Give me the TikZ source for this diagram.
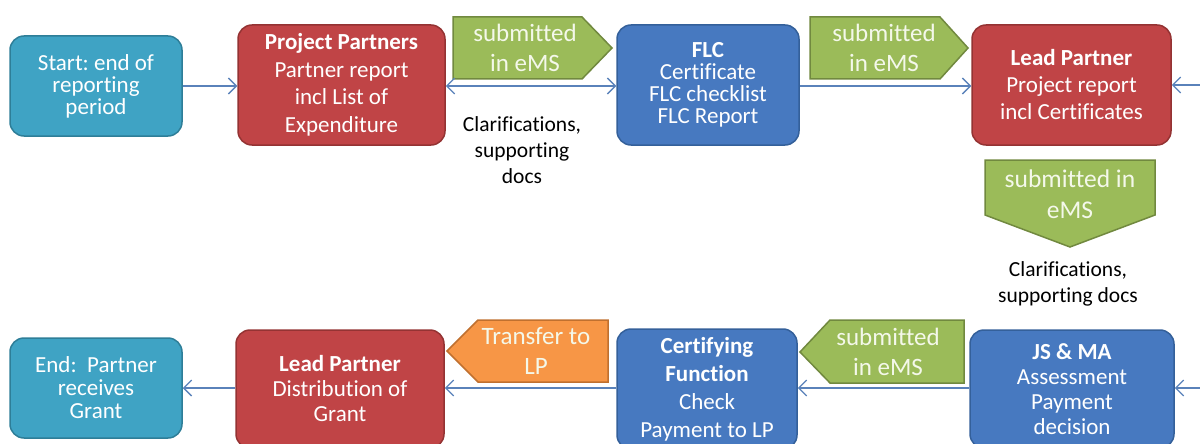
\documentclass[tikz,border=0pt]{standalone}
\usepackage{fontspec}
\setmainfont{Carlito}[Ligatures=NoCommon]
\usetikzlibrary{arrows.meta}
\frenchspacing
\definecolor{teal}{HTML}{3FA3C4}
\definecolor{tealb}{HTML}{2E7E98}
\definecolor{redf}{HTML}{C04446}
\definecolor{redb}{HTML}{943333}
\definecolor{bluef}{HTML}{4779C0}
\definecolor{blueb}{HTML}{34609A}
\definecolor{greenf}{HTML}{9BBB59}
\definecolor{greenb}{HTML}{71893F}
\definecolor{orangef}{HTML}{F79646}
\definecolor{orangeb}{HTML}{C0702F}
\definecolor{conn}{HTML}{5A82BA}
\definecolor{paletxt}{HTML}{F4F8EA}
\tikzset{
  box/.style={rounded corners=14pt, line width=1.5pt, align=center, text=white,
    inner sep=0pt, font=\fontsize{23}{26}\selectfont},
  tealbox/.style={box, fill=teal, draw=tealb},
  redbox/.style={box, fill=redf, draw=redb},
  bluebox/.style={box, fill=bluef, draw=blueb},
  tag/.style={line width=1.5pt, line join=miter},
  tagtext/.style={align=center, text=paletxt, inner sep=0pt, font=\fontsize{25}{30}\selectfont},
  note/.style={align=center, text=black, inner sep=0pt, font=\fontsize{21.5}{26}\selectfont},
  conline/.style={draw=conn, line width=1.3pt},
  arr/.style={conline, -{Straight Barb[length=8pt,width=16pt,line width=1.3pt]}},
  darr/.style={conline, {Straight Barb[length=8pt,width=16pt,line width=1.3pt]}-{Straight Barb[length=8pt,width=16pt,line width=1.3pt]}}
}
\begin{document}
\begin{tikzpicture}[x=1pt,y=-1pt]
\useasboundingbox (0,0) rectangle (1200,444);
% ---- top row boxes
\node[tealbox, minimum width=172pt, minimum height=100pt, font=\fontsize{23}{22}\selectfont] (start) at (96,86) {Start: end of\\reporting\\period};
\node[redbox, minimum width=207pt, minimum height=120pt, font=\fontsize{23}{27.5}\selectfont] (pp) at (341.5,85) {\textbf{Project Partners}\\Partner report\\incl List of\\Expenditure};
\node[bluebox, minimum width=182pt, minimum height=120pt, font=\fontsize{23}{22}\selectfont] (flc) at (708,85) {\textbf{FLC}\\Certificate\\FLC checklist\\FLC Report};
\node[redbox, minimum width=199pt, minimum height=120pt, font=\fontsize{23}{27}\selectfont] (lp1) at (1071.5,85) {\textbf{Lead Partner}\\Project report\\incl Certificates};
% ---- bottom row boxes
\node[bluebox, minimum width=204pt, minimum height=118pt, font=\fontsize{23}{25}\selectfont] (js) at (1072,389) {\textbf{JS \& MA}\\Assessment\\Payment\\decision};
\node[bluebox, minimum width=180pt, minimum height=120pt, font=\fontsize{23}{28}\selectfont] (cf) at (707,389) {\textbf{Certifying}\\\textbf{Function}\\Check\\Payment to LP};
\node[redbox, minimum width=208pt, minimum height=118pt, font=\fontsize{23}{25}\selectfont] (lp2) at (340,389) {\textbf{Lead Partner}\\Distribution of\\Grant};
\node[tealbox, minimum width=172pt, minimum height=100pt, font=\fontsize{23}{23}\selectfont] (end) at (96,388) {End:\ \ Partner\\receives\\Grant};
% ---- tags
\draw[tag, fill=greenf, draw=greenb] (453,17) -- (582,17) -- (612,48) -- (582,79) -- (453,79) -- cycle;
\node[tagtext] (g1) at (525,48) {submitted\\in eMS};
\draw[tag, fill=greenf, draw=greenb] (810,17) -- (940,17) -- (968,48) -- (940,79) -- (810,79) -- cycle;
\node[tagtext] (g2) at (884,48) {submitted\\in eMS};
\draw[tag, fill=greenf, draw=greenb] (985,160) -- (1155,160) -- (1155,215) -- (1070,247) -- (985,215) -- cycle;
\node[tagtext, font=\fontsize{25.5}{31}\selectfont] (g3) at (1070,194) {submitted in\\eMS};
\draw[tag, fill=greenf, draw=greenb] (800,352) -- (830,320) -- (964,320) -- (964,383) -- (830,383) -- cycle;
\node[tagtext] (g4) at (888,352) {submitted\\in eMS};
\draw[tag, fill=orangef, draw=orangeb] (447,351) -- (478,320) -- (608,320) -- (608,382) -- (478,382) -- cycle;
\node[tagtext] (o1) at (536,351) {Transfer to\\LP};
% ---- notes
\node[note] (n1) at (522,150) {Clarifications,\\supporting\\docs};
\node[note] (n2) at (1068,284) {Clarifications,\\supporting docs};
% ---- connectors
\coordinate (rin1) at (1200,85);
\coordinate (rin2) at (1200,388);
\draw[arr] (start.east |- 0,86) -- (pp.west |- 0,86);
\draw[darr] (pp.east |- 0,86) -- (flc.west |- 0,86);
\draw[arr] (flc.east |- 0,86) -- (lp1.west |- 0,86);
\draw[arr] (rin1) -- (lp1.east |- rin1);
\draw[arr] (rin2) -- (js.east |- rin2);
\draw[arr] (js.west |- 0,388) -- (cf.east |- 0,388);
\draw[arr] (cf.west |- 0,388) -- (lp2.east |- 0,388);
\draw[arr] (lp2.west |- 0,388) -- (end.east |- 0,388);
\end{tikzpicture}
\end{document}
